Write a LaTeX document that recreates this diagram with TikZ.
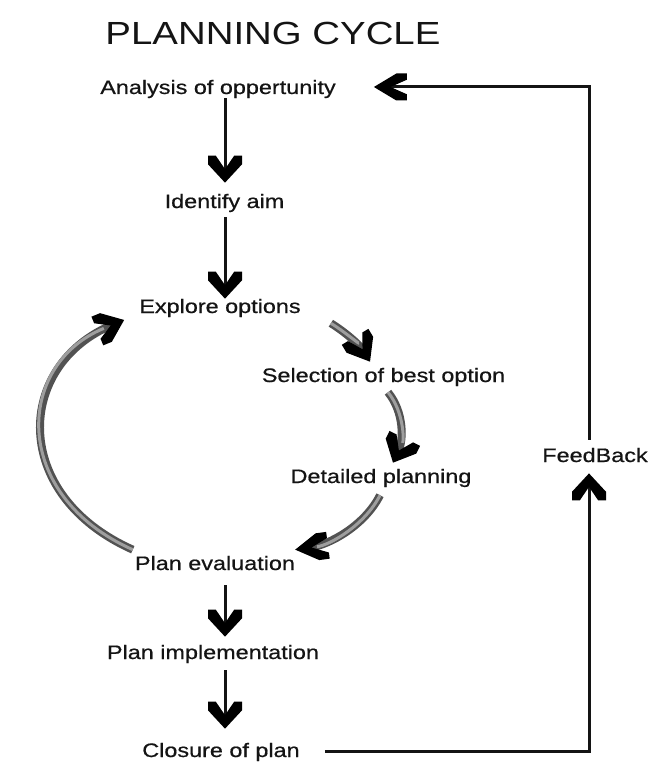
\documentclass[tikz,border=0pt]{standalone}
\usepackage{fontspec}
\setmainfont{Liberation Sans}[FakeStretch=1.2]
\newfontfamily\lblfont{Liberation Sans}[FakeStretch=1.2,FakeBold=0.6]
\usetikzlibrary{arrows.meta,calc}
\pgfdeclarearrow{
  name = Chev,
  parameters = {\the\pgfarrowlength,\the\pgfarrowwidth},
  setup code = {
    \pgfarrowssettipend{0pt}
    \pgfarrowssetlineend{-0.42\pgfarrowlength}
    \pgfarrowssetbackend{-\pgfarrowlength}
    \pgfarrowssetvisualbackend{-0.42\pgfarrowlength}
    \pgfarrowshullpoint{0pt}{0pt}
    \pgfarrowsupperhullpoint{-\pgfarrowlength}{0.5\pgfarrowwidth}
    \pgfarrowssavethe\pgfarrowlength
    \pgfarrowssavethe\pgfarrowwidth
  },
  drawing code = {
    \pgfpathmoveto{\pgfpointorigin}
    \pgfpathlineto{\pgfpoint{-0.68\pgfarrowlength}{0.5\pgfarrowwidth}}
    \pgfpathlineto{\pgfpoint{-\pgfarrowlength}{0.5\pgfarrowwidth}}
    \pgfpathlineto{\pgfpoint{-\pgfarrowlength}{0.27\pgfarrowwidth}}
    \pgfpathlineto{\pgfpoint{-0.5\pgfarrowlength}{0pt}}
    \pgfpathlineto{\pgfpoint{-\pgfarrowlength}{-0.27\pgfarrowwidth}}
    \pgfpathlineto{\pgfpoint{-\pgfarrowlength}{-0.5\pgfarrowwidth}}
    \pgfpathlineto{\pgfpoint{-0.68\pgfarrowlength}{-0.5\pgfarrowwidth}}
    \pgfpathclose
    \pgfusepathqfill
  },
  defaults = {length=26pt, width=33pt}
}
\begin{document}
\begin{tikzpicture}[x=1pt,y=-1pt,
  lbl/.style={inner sep=0pt,anchor=base,font=\lblfont\fontsize{19.5}{23}\selectfont,text=black!92},
  ttl/.style={inner sep=0pt,anchor=base,font=\fontsize{32}{38}\selectfont,text=black!92},
  conn/.style={line width=3pt,draw=black!92},
  vhead/.style={-{Chev[length=27pt,width=34pt,color=black]}},
  hhead/.style={-{Chev[length=33pt,width=27pt,color=black]}},
  dhead/.style={-{Chev[length=29pt,width=31pt,color=black]}},
  tube/.style={line width=8pt,draw=black!68,line cap=butt,
    postaction={draw=black!38,line width=3pt,-,shorten >=22pt}}]
\useasboundingbox[fill=white] (0,0) rectangle (655,767);

% nodes
\node[ttl] (title) at (273,45) {PLANNING CYCLE};
\node[lbl] (analysis) at (218,94) {Analysis of oppertunity};
\node[lbl] (identify) at (224.5,208) {Identify aim};
\node[lbl] (explore) at (220,313) {Explore options};
\node[lbl] (selection) at (383.5,382) {Selection of best option};
\node[lbl] (detailed) at (381,483) {Detailed planning};
\node[lbl] (feedback) at (595,462) {FeedBack};
\node[lbl] (planeval) at (215,570) {Plan evaluation};
\node[lbl] (planimpl) at (213,659) {Plan implementation};
\node[lbl] (closure) at (221,757) {Closure of plan};

\coordinate (colx) at (225,0);
\coordinate (fbx) at (589,0);
\coordinate (topcorner) at (589,87);

% straight downward arrows
\draw[conn,vhead,shorten >=11pt] (analysis.south -| colx) -- (identify.north -| colx);
\draw[conn,vhead,shorten <=5pt] (identify.south -| colx) -- (explore.north -| colx);
\draw[conn,vhead,shorten <=15pt,shorten >=8pt] (planeval.south -| colx) -- (planimpl.north -| colx);
\draw[conn,vhead,shorten <=7pt,shorten >=14pt] (planimpl.south -| colx) -- (closure.north -| colx);

% feedback loop
\draw[conn,vhead,shorten <=25pt,shorten >=11pt] (closure.east) -| (feedback.south -| fbx);
\draw[conn,hhead,shorten <=8pt,shorten >=38pt] (feedback.north -| fbx) -- (topcorner) -- (analysis.east |- topcorner);

% grey cycle arrows
\coordinate (e1) at ($(explore.south east)+(30,6)$);
\coordinate (s1) at ($(selection.north)+(-13.5,-6)$);
\draw[tube,dhead] (e1) .. controls (345,332) and (360,345) .. (s1);

\coordinate (s2) at ($(selection.south)+(4.5,6)$);
\coordinate (d1) at ($(detailed.north)+(12,-6)$);
\draw[tube,vhead] (s2) .. controls (404,412) and (404,440) .. (d1);

\coordinate (d2) at ($(detailed.south)+(-1,8)$);
\coordinate (p1) at ($(planeval.north east)+(0,-6)$);
\draw[tube,hhead] (d2) .. controls (365,525) and (330,545) .. (p1);

\coordinate (p2) at ($(planeval.north west)+(-2,-6)$);
\coordinate (x1) at ($(explore.west)+(-15,12)$);
\draw[tube,dhead] (p2) .. controls (10,495) and (15,365) .. (x1);
\end{tikzpicture}
\end{document}
